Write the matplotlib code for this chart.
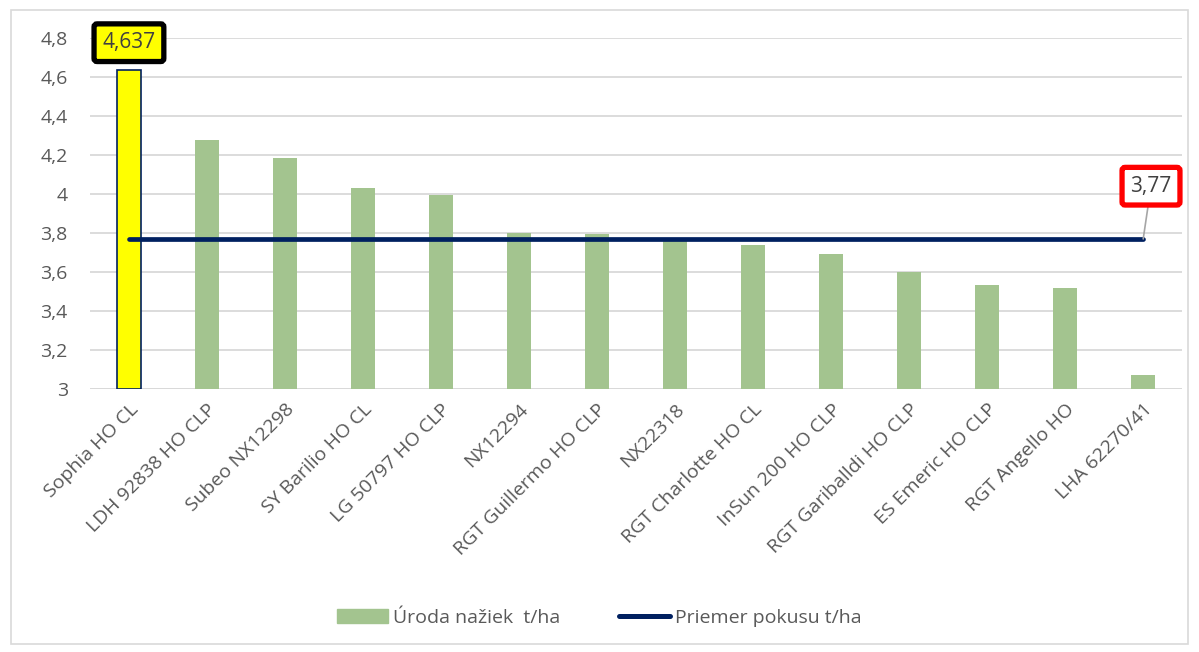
import matplotlib
matplotlib.use("Agg")
import matplotlib.pyplot as plt
from matplotlib.patches import Rectangle, Patch
from matplotlib.lines import Line2D

plt.rcParams['font.family'] = ['Open Sans', 'DejaVu Sans']

categories = ["Sophia HO CL", "LDH 92838 HO CLP", "Subeo NX12298", "SY Barilio HO CL",
              "LG 50797 HO CLP", "NX12294", "RGT Guillermo HO CLP", "NX22318",
              "RGT Charlotte HO CL", "InSun 200 HO CLP", "RGT Gariballdi HO CLP",
              "ES Emeric HO CLP", "RGT Angello HO", "LHA 62270/41"]
yields = [4.637, 4.277, 4.183, 4.03, 3.993, 3.80, 3.795, 3.775, 3.738, 3.692,
          3.598, 3.533, 3.518, 3.072]
mean_vals = [3.77] * len(categories)
yticks = [3.0, 3.2, 3.4, 3.6, 3.8, 4.0, 4.2, 4.4, 4.6, 4.8]
ytick_labels = ["3", "3,2", "3,4", "3,6", "3,8", "4", "4,2", "4,4", "4,6", "4,8"]

green = "#A3C48F"
navy = "#002060"
gray_text = "#595959"

fig = plt.figure(figsize=(11.99, 6.52), dpi=100)
fig.patches.append(Rectangle((0.009, 0.012), 0.982, 0.972, transform=fig.transFigure,
                             fill=False, ec="#D9D9D9", lw=1.2))
ax = fig.add_axes([0.075, 0.403, 0.911, 0.539])

x = list(range(len(categories)))
colors = ["#FFFF00"] + [green] * (len(categories) - 1)
edges = [navy] + [green] * (len(categories) - 1)
lws = [1.2] + [0] * (len(categories) - 1)
ax.bar(x, [v - 3 for v in yields], bottom=3, width=0.31, color=colors,
       edgecolor=edges, linewidth=lws, zorder=2)
ax.plot(x, mean_vals, color=navy, lw=3.4, solid_capstyle='round', zorder=3)

ax.set_xlim(-0.5, len(categories) - 0.5)
ax.set_ylim(3, 4.8)
ax.set_yticks(yticks)
ax.set_yticklabels(ytick_labels, fontsize=14, color=gray_text)
ax.set_xticks(x)
ax.set_xticklabels(categories, rotation=45, ha='right', rotation_mode='anchor',
                   fontsize=14, color=gray_text)
ax.tick_params(axis='y', length=0, pad=16)
ax.tick_params(axis='x', length=0, pad=8)
ax.grid(axis='y', color="#D9D9D9", lw=1.3, zorder=0)
for s in ax.spines.values():
    s.set_visible(False)
ax.axhline(3, color="#D9D9D9", lw=1.3, zorder=1)

# data labels
ax.text(0, 4.775, "4,637", ha='center', va='center', fontsize=15,
        color="#404040", clip_on=False, zorder=5,
        bbox=dict(boxstyle='round,pad=0.4,rounding_size=0.15', fc="#FFFF00", ec="black", lw=3.8))
ax.annotate("3,77", xy=(13, mean_vals[-1]), xytext=(13.1, 4.04), ha='center', va='center',
            fontsize=15, color="#404040", annotation_clip=False, zorder=5,
            bbox=dict(boxstyle='round,pad=0.4,rounding_size=0.15', fc="white", ec="#FF0000", lw=3.8),
            arrowprops=dict(arrowstyle='-', color="#A6A6A6", lw=1.2, shrinkA=0, shrinkB=0))

handles = [Patch(facecolor=green, edgecolor=green, label="Úroda nažiek  t/ha"),
           Line2D([0], [0], color=navy, lw=3.6, solid_capstyle='round', label="Priemer pokusu t/ha")]
leg = fig.legend(handles=handles, loc='center', bbox_to_anchor=(0.5, 0.052), ncol=2,
                 frameon=False, fontsize=14, handlelength=2.6, columnspacing=3.0,
                 handletextpad=0.3)
for t in leg.get_texts():
    t.set_color(gray_text)

fig.savefig("out.png", dpi=100)
